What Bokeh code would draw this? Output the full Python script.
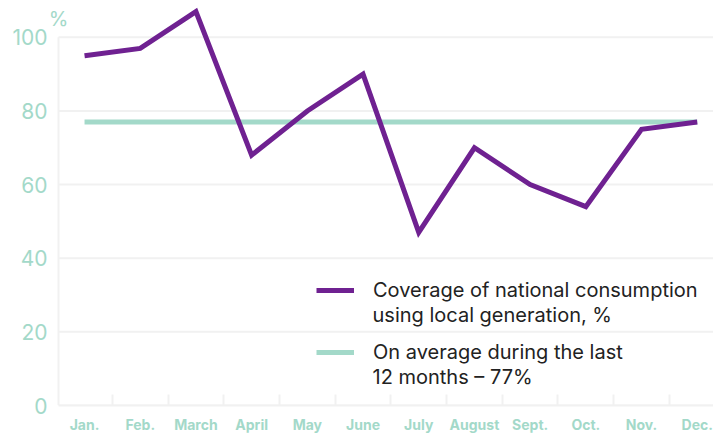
from bokeh.plotting import figure
from bokeh.models import Range1d, FixedTicker, Legend, LegendItem, Label
from bokeh.embed import file_html
from bokeh.resources import INLINE

months = ["Jan.", "Feb.", "March", "April", "May", "June", "July", "August", "Sept.", "Oct.", "Nov.", "Dec."]
coverage = [95, 97, 107, 68, 80, 90, 47, 70, 60, 54, 75, 77]
average = [77] * 12
y_ticks = [0, 20, 40, 60, 80, 100]
legend_first = ["Coverage of national consumption", "On average during the last"]
legend_second = ["using local generation, %", "12 months \u2013 77%"]

MINT = "#a3d9c9"
PURPLE = "#6f2191"
GRID = "#f1f1f1"
FONT = "Inter"

xs = list(range(len(months)))
X0 = -0.467   # data position of the visible y axis line
XEND = 11.292

p = figure(width=713, height=435, output_backend="svg", toolbar_location=None,
           x_range=Range1d(-0.647, XEND), y_range=Range1d(0, 110),
           min_border_left=48, min_border_right=0, min_border_top=0, min_border_bottom=30)
p.outline_line_color = None
p.background_fill_color = "white"

# grid lines and y axis line (start at the axis position)
p.xgrid.grid_line_color = None
p.ygrid.grid_line_color = None
p.segment(x0=[X0] * len(y_ticks), y0=y_ticks, x1=[XEND + 1] * len(y_ticks), y1=y_ticks,
          line_color=GRID, line_width=2)
p.segment(x0=[X0], y0=[y_ticks[0]], x1=[X0], y1=[y_ticks[-1]], line_color=GRID, line_width=2)

avg_r = p.line(xs, average, line_color=MINT, line_width=5)
cov_r = p.line(xs, coverage, line_color=PURPLE, line_width=5, line_join="miter")

p.yaxis.ticker = FixedTicker(ticks=y_ticks)
p.yaxis.axis_line_color = None
p.yaxis.major_tick_line_color = None
p.yaxis.major_tick_out = 0
p.yaxis.major_tick_in = 0
p.yaxis.minor_tick_line_color = None
p.yaxis.minor_tick_out = 0
p.yaxis.major_label_text_color = MINT
p.yaxis.major_label_text_font = FONT
p.yaxis.major_label_text_font_size = "21px"
p.yaxis.major_label_standoff = 1

p.xaxis.ticker = FixedTicker(ticks=xs, minor_ticks=[i + 0.5 for i in xs[:-1]])
p.xaxis.major_label_overrides = {i: m for i, m in enumerate(months)}
p.xaxis.bounds = (X0, XEND + 1)
p.xaxis.axis_line_color = GRID
p.xaxis.axis_line_width = 2
p.xaxis.major_tick_line_color = None
p.xaxis.major_tick_out = 0
p.xaxis.major_tick_in = 0
p.xaxis.minor_tick_line_color = GRID
p.xaxis.minor_tick_line_width = 2
p.xaxis.minor_tick_in = 11
p.xaxis.minor_tick_out = 0
p.xaxis.major_label_text_color = MINT
p.xaxis.major_label_text_font = FONT
p.xaxis.major_label_text_font_style = "bold"
p.xaxis.major_label_text_font_size = "14px"
p.xaxis.major_label_standoff = 10

pct = Label(x=X0, y=105.0, text="%", text_align="center", text_baseline="middle",
            text_color=MINT, text_font=FONT, text_font_size="20px")
p.add_layout(pct)

legend = Legend(items=[
    LegendItem(label=legend_first[0], renderers=[cov_r]),
    LegendItem(label=legend_first[1], renderers=[avg_r]),
], location=(268, 41), orientation="vertical")
legend.border_line_color = None
legend.background_fill_alpha = 0
legend.padding = 0
legend.margin = 0
legend.spacing = 38
legend.glyph_width = 38
legend.label_standoff = 19
legend.label_text_font = FONT
legend.label_text_font_size = "20px"
legend.label_text_color = "#222222"
p.add_layout(legend)

for txt, yv in zip(legend_second, [24.5, 7.8]):
    p.add_layout(Label(x=5.17, y=yv, text=txt, text_align="left", text_baseline="middle",
                       text_color="#222222", text_font=FONT, text_font_size="20px"))

open("out.html", "w").write(file_html(p, INLINE))
